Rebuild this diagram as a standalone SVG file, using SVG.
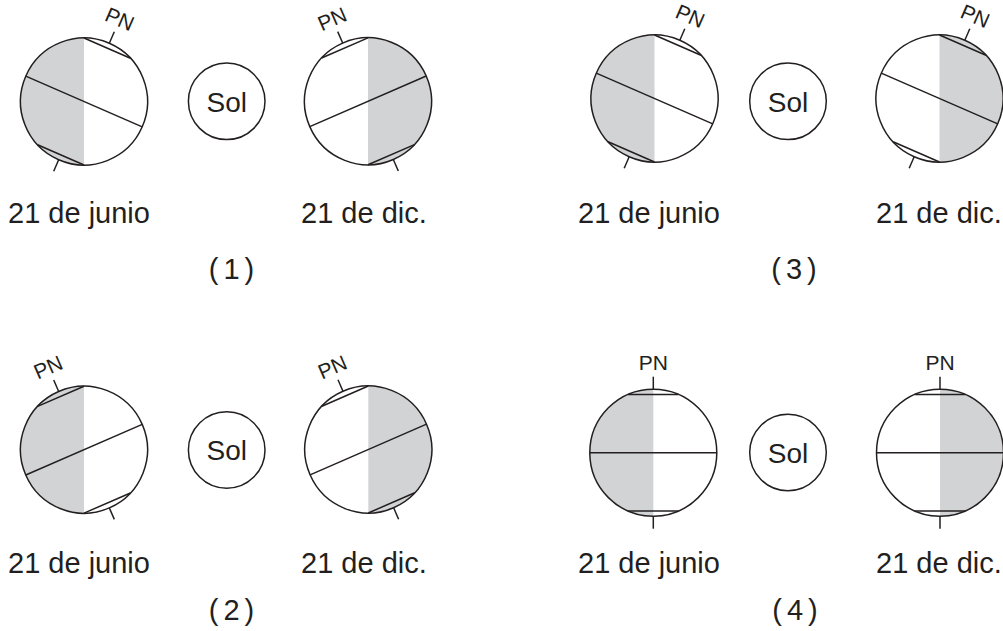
<svg xmlns="http://www.w3.org/2000/svg" xmlns:xlink="http://www.w3.org/1999/xlink" width="1003" height="631" viewBox="0 0 1003 631">
  <style>
    .ink { stroke: #231f20; stroke-width: 1.5; fill: none; }
    .disc { fill: #ffffff; }
    .night { fill: #d2d3d5; }
    .lbl { font-family: "Liberation Sans", Arial, sans-serif; font-size: 29px; fill: #231f20; }
    .sol { font-size: 28px; }
    .num { word-spacing: -3px; }
    .pole { font-family: "Liberation Sans", Arial, sans-serif; font-size: 21px; fill: #231f20; text-anchor: middle; }
    .mid { text-anchor: middle; }
  </style>
  <defs>
    <!-- dark hemisphere halves, drawn in the unrotated frame -->
    <path id="halfL" d="M0,-63.5 A63.5,63.5 0 0 0 0,63.5 Z"/>
    <path id="halfR" d="M0,-63.5 A63.5,63.5 0 0 1 0,63.5 Z"/>
    <!-- globe outline with equator, polar circles, axis ticks and pole label -->
    <g id="earth">
      <circle class="ink" r="63.5"/>
      <line class="ink" x1="-63.5" y1="0" x2="63.5" y2="0"/>
      <line class="ink" x1="-25.3" y1="-58.2" x2="25.3" y2="-58.2"/>
      <line class="ink" x1="-25.3" y1="58.2" x2="25.3" y2="58.2"/>
      <line class="ink" x1="0" y1="-63.5" x2="0" y2="-76"/>
      <line class="ink" x1="0" y1="63.5" x2="0" y2="76"/>
      <text class="pole" x="0" y="-82.5">PN</text>
    </g>
    <g id="sun">
      <circle class="ink" r="38.3" style="fill:#ffffff"/>
      <text class="lbl sol mid" x="0" y="10.3">Sol</text>
    </g>
  </defs>

  <!-- option 1 -->
  <g id="globe1" transform="translate(84,101.5)">
    <circle class="disc" r="63.5"/><use href="#halfL" class="night"/>
    <use href="#earth" transform="rotate(23.5)"/>
  </g>
  <g id="sun1" transform="translate(226.7,101.3)"><use href="#sun"/></g>
  <g id="globe2" transform="translate(368,101.3)">
    <circle class="disc" r="63.5"/><use href="#halfR" class="night"/>
    <use href="#earth" transform="rotate(-23.5)"/>
  </g>

  <!-- option 3 -->
  <g id="globe3" transform="translate(654.5,98.5)">
    <circle class="disc" r="63.5"/><use href="#halfL" class="night"/>
    <use href="#earth" transform="rotate(23.5)"/>
  </g>
  <g id="sun3" transform="translate(788,101.3)"><use href="#sun"/></g>
  <g id="globe4" transform="translate(939.5,98.5)">
    <circle class="disc" r="63.5"/><use href="#halfR" class="night"/>
    <use href="#earth" transform="rotate(23.5)"/>
  </g>

  <!-- option 2 -->
  <g id="globe5" transform="translate(84,449.7)">
    <circle class="disc" r="63.5"/><use href="#halfL" class="night"/>
    <use href="#earth" transform="rotate(-23.5)"/>
  </g>
  <g id="sun2" transform="translate(226.7,450)"><use href="#sun"/></g>
  <g id="globe6" transform="translate(368.3,449.5)">
    <circle class="disc" r="63.5"/><use href="#halfR" class="night"/>
    <use href="#earth" transform="rotate(-23.5)"/>
  </g>

  <!-- option 4 -->
  <g id="globe7" transform="translate(653.3,452.7)">
    <circle class="disc" r="63.5"/><use href="#halfL" class="night"/>
    <use href="#earth"/>
  </g>
  <g id="sun4" transform="translate(788,452.5)"><use href="#sun"/></g>
  <g id="globe8" transform="translate(940,452.7)">
    <circle class="disc" r="63.5"/><use href="#halfR" class="night"/>
    <use href="#earth"/>
  </g>

  <g id="connectors"/>

  <!-- captions -->
  <g id="captions">
    <text class="lbl" x="8" y="222.5">21 de junio</text>
    <text class="lbl" x="301" y="222.5">21 de dic.</text>
    <text class="lbl mid num" x="231.5" y="279">( 1 )</text>

    <text class="lbl" x="578" y="222.5">21 de junio</text>
    <text class="lbl" x="876" y="222.5">21 de dic.</text>
    <text class="lbl mid num" x="794" y="279">( 3 )</text>

    <text class="lbl" x="8" y="573.3">21 de junio</text>
    <text class="lbl" x="301" y="573.3">21 de dic.</text>
    <text class="lbl mid num" x="231.5" y="620">( 2 )</text>

    <text class="lbl" x="578" y="573.3">21 de junio</text>
    <text class="lbl" x="876" y="573.3">21 de dic.</text>
    <text class="lbl mid num" x="795" y="620">( 4 )</text>
  </g>
</svg>
